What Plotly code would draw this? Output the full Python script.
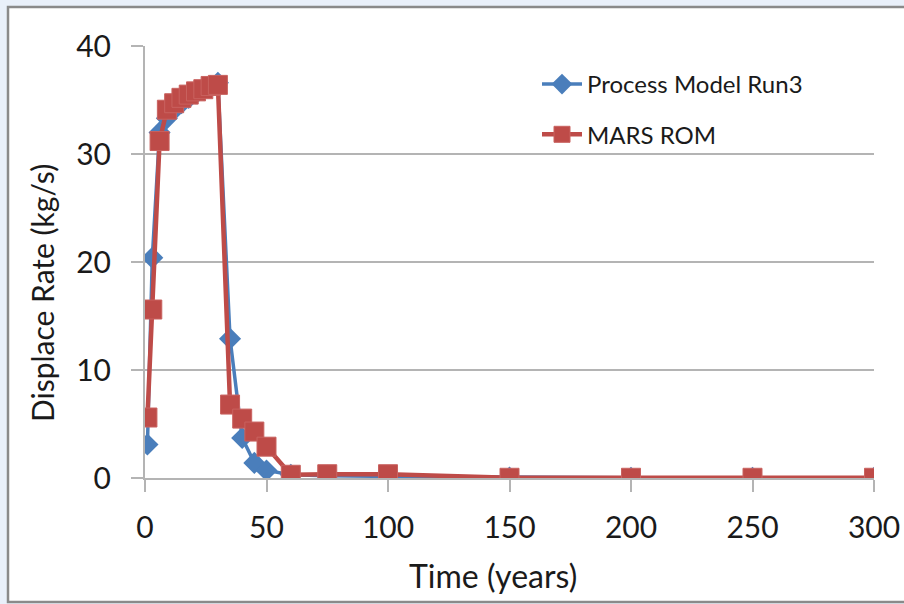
import plotly.graph_objects as go

# Output times (years)
time_years = [1, 3, 6, 9, 12, 15, 18, 21, 24, 27, 30, 35, 40, 45, 50, 60, 75, 100, 150, 200, 250, 300]

# Displacement rate (kg/s) from the process model simulation
process_model = [3.1, 20.4, 32.0, 33.3, 34.1, 34.7, 35.2, 35.6, 36.0, 36.3, 36.6,
                 12.9, 3.7, 1.4, 0.7, 0.3, 0.2, 0.15, 0.05, 0.02, 0.02, 0.02]

# Displacement rate (kg/s) predicted by the MARS reduced-order model
mars_rom = [5.6, 15.6, 31.2, 34.1, 34.7, 35.2, 35.5, 35.8, 36.0, 36.3, 36.4,
            6.8, 5.5, 4.3, 2.9, 0.3, 0.35, 0.35, 0.02, 0.02, 0.02, 0.02]

x_ticks = [0, 50, 100, 150, 200, 250, 300]
y_ticks = [0, 10, 20, 30, 40]

BLUE = "#4a7ebb"
RED = "#be4b48"
GRID = "#b4b4b4"
FONT = "Lato, 'Open Sans', sans-serif"

fig = go.Figure()
fig.add_trace(go.Scatter(
    x=time_years, y=process_model, name="Process Model Run3",
    mode="lines+markers", legendgroup="a",
    line=dict(color=BLUE, width=3.5),
    marker=dict(symbol="diamond", size=17, color=BLUE, line=dict(width=0)),
))
fig.add_trace(go.Scatter(
    x=time_years, y=mars_rom, name="MARS ROM",
    mode="lines+markers", legendgroup="b",
    line=dict(color=RED, width=4.5),
    marker=dict(symbol="square", size=19, color=RED, line=dict(width=1, color="#c9625f")),
))

# chart frame: white panel with a grey edge on a pale blue page
L, R, T, B = 145, 30, 46, 126
W, H = 904, 604
pw, ph = W - L - R, H - T - B
def px_x(p):
    return (p - L) / pw
def px_y(p):
    return (H - B - p) / ph

fig.add_shape(type="rect", xref="paper", yref="paper", layer="below",
              x0=px_x(8), x1=px_x(920), y0=px_y(602), y1=px_y(7),
              fillcolor="white", line=dict(color="#8a8a8a", width=2.5))

# axis titles
fig.add_annotation(text="Time (years)", xref="paper", yref="paper",
                   x=px_x(493), y=px_y(575), xanchor="center", yanchor="middle",
                   showarrow=False, font=dict(size=32, family=FONT, color="#1a1a1a"))
fig.add_annotation(text="Displace Rate (kg/s)", xref="paper", yref="paper",
                   x=px_x(42), y=px_y(293), xanchor="center", yanchor="middle",
                   textangle=-90, showarrow=False,
                   font=dict(size=30, family=FONT, color="#1a1a1a"))

fig.update_layout(
    width=W, height=H,
    margin=dict(l=L, r=R, t=T, b=B, autoexpand=False),
    paper_bgcolor="#e9f0fa",
    plot_bgcolor="rgba(0,0,0,0)",
    font=dict(family=FONT, color="#1a1a1a"),
    showlegend=True,
    legend=dict(x=px_x(537), y=px_y(62), xanchor="left", yanchor="top",
                bgcolor="rgba(0,0,0,0)", font=dict(size=24, family=FONT),
                tracegroupgap=16, itemwidth=40),
    xaxis=dict(range=[0, 300], tickvals=x_ticks, showgrid=False,
               showline=True, linecolor=GRID, linewidth=2,
               ticks="outside", ticklen=12, tickcolor=GRID, tickwidth=2,
               tickfont=dict(size=30, family=FONT), zeroline=False,
               ticklabelstandoff=10, automargin=False),
    yaxis=dict(range=[0, 40], tickvals=y_ticks, showgrid=True, gridcolor=GRID, gridwidth=2,
               showline=True, linecolor=GRID, linewidth=2,
               ticks="outside", ticklen=12, tickcolor=GRID, tickwidth=2,
               tickfont=dict(size=30, family=FONT), zeroline=False,
               ticklabelstandoff=14, automargin=False),
)

fig.write_html("out.html")
